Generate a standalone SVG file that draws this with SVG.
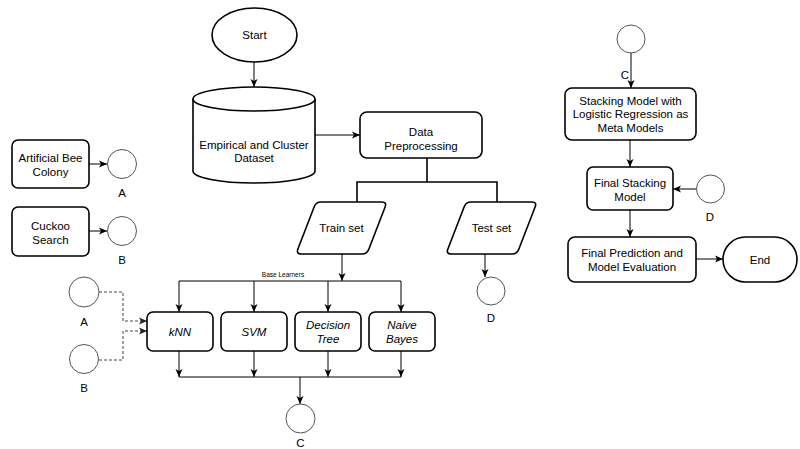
<svg xmlns="http://www.w3.org/2000/svg" width="800" height="449" viewBox="0 0 800 449">
<style>
.box{fill:#fff;stroke:#000;stroke-width:1.6}
.circ{fill:#fff;stroke:#555;stroke-width:1}
.t{font-family:"Liberation Sans",Arial,sans-serif;font-size:11.5px;fill:#000;text-anchor:middle;dominant-baseline:central}
.i{font-style:italic}
.c{fill:none;stroke:#000;stroke-width:1}
.thick{fill:none;stroke:#000;stroke-width:1.6}
.dash{fill:none;stroke:#444;stroke-width:1;stroke-dasharray:3 2}
</style>
<defs>
<marker id="ar" markerUnits="userSpaceOnUse" markerWidth="9" markerHeight="8" refX="8" refY="4" orient="auto">
<path d="M0,0.5 L8,4 L0,7.5 L2,4 Z" fill="#000"/>
</marker>
<marker id="arg" markerUnits="userSpaceOnUse" markerWidth="9" markerHeight="8" refX="8" refY="4" orient="auto">
<path d="M0,0.5 L8,4 L0,7.5 L2,4 Z" fill="#222"/>
</marker>
</defs>
<g id="connectors">
<path class="c" d="M254,62 V87" marker-end="url(#ar)"/>
<path class="c" d="M315,135 H360" marker-end="url(#ar)"/>
<path class="thick" d="M427,158 V182"/>
<path class="thick" d="M357,202 V182 H497 V202"/>
<path class="c" d="M342,254 V281" marker-end="url(#ar)"/>
<path class="c" d="M179,281 H401"/>
<path class="c" d="M179,281 V312" marker-end="url(#ar)"/>
<path class="c" d="M254,281 V312" marker-end="url(#ar)"/>
<path class="c" d="M328,281 V312" marker-end="url(#ar)"/>
<path class="c" d="M401,281 V312" marker-end="url(#ar)"/>
<path class="c" d="M179,351 V377" marker-end="url(#ar)"/>
<path class="c" d="M254,351 V377" marker-end="url(#ar)"/>
<path class="c" d="M328,351 V377" marker-end="url(#ar)"/>
<path class="c" d="M401,351 V377" marker-end="url(#ar)"/>
<path class="c" d="M179,377 H401"/>
<path class="c" d="M300,377 V404" marker-end="url(#ar)"/>
<path class="dash" d="M99,292 H123 V321 H147" marker-end="url(#arg)"/>
<path class="dash" d="M99,360 H123 V331 H147" marker-end="url(#arg)"/>
<path class="c" d="M89,164 H107" marker-end="url(#ar)"/>
<path class="c" d="M89,231 H107" marker-end="url(#ar)"/>
<path class="c" d="M485,254 V277" marker-end="url(#ar)"/>
<path class="c" d="M631,53 V88" marker-end="url(#ar)"/>
<path class="c" d="M630,140 V167" marker-end="url(#ar)"/>
<path class="c" d="M696,189 H673" marker-end="url(#ar)"/>
<path class="c" d="M630,210 V237" marker-end="url(#ar)"/>
<path class="c" d="M696,259 H723" marker-end="url(#ar)"/>
<text class="t" x="283" y="274" style="font-size:6.5px">Base Learners</text>
</g>
<g id="start">
<ellipse class="box" cx="254.5" cy="35" rx="42.5" ry="27"/>
<text class="t" x="254.5" y="35">Start</text>
</g>
<g id="dataset">
<path class="box" d="M193,99 A61,12 0 0,1 315,99 V171 A61,12 0 0,1 193,171 Z"/>
<path class="box" d="M193,99 A61,12 0 0,0 315,99" fill="none"/>
<text class="t" x="254" y="145">Empirical and Cluster</text>
<text class="t" x="254" y="158">Dataset</text>
</g>
<g id="preprocessing">
<rect class="box" x="360" y="112" width="122" height="46" rx="7"/>
<text class="t" x="421" y="132">Data</text>
<text class="t" x="421" y="146">Preprocessing</text>
</g>
<g id="trainset">
<path class="box" d="M321,202 H382 Q387,202 385.2,206.7 L368.8,249.3 Q367,254 362,254 H301 Q296,254 297.8,249.3 L314.2,206.7 Q316,202 321,202 Z"/>
<text class="t" x="341.5" y="228">Train set</text>
</g>
<g id="testset">
<path class="box" d="M471,202 H532 Q537,202 535.2,206.7 L518.8,249.3 Q517,254 512,254 H451 Q446,254 447.8,249.3 L464.2,206.7 Q466,202 471,202 Z"/>
<text class="t" x="491.5" y="228">Test set</text>
</g>
<g id="abc">
<rect class="box" x="12" y="140" width="77" height="48" rx="6"/>
<text class="t" x="50.5" y="158">Artificial Bee</text>
<text class="t" x="50.5" y="172">Colony</text>
</g>
<g id="circleA1">
<circle class="circ" cx="122" cy="164" r="14.5"/>
<text class="t" x="122" y="193">A</text>
</g>
<g id="cuckoo">
<rect class="box" x="12" y="207" width="77" height="49" rx="6"/>
<text class="t" x="50.5" y="226">Cuckoo</text>
<text class="t" x="50.5" y="240">Search</text>
</g>
<g id="circleB1">
<circle class="circ" cx="122" cy="231" r="14.5"/>
<text class="t" x="122" y="260">B</text>
</g>
<g id="circleD1">
<circle class="circ" cx="491" cy="291" r="14"/>
<text class="t" x="491" y="318">D</text>
</g>
<g id="circleA2">
<circle class="circ" cx="84" cy="292" r="15"/>
<text class="t" x="84" y="322">A</text>
</g>
<g id="circleB2">
<circle class="circ" cx="84" cy="359" r="14.5"/>
<text class="t" x="84" y="388">B</text>
</g>
<g id="knn">
<rect class="box" x="147" y="312" width="66" height="39" rx="6"/>
<text class="t i" x="180" y="331.5">kNN</text>
</g>
<g id="svm">
<rect class="box" x="221" y="312" width="66" height="39" rx="6"/>
<text class="t i" x="254" y="331.5">SVM</text>
</g>
<g id="dtree">
<rect class="box" x="295" y="312" width="66" height="39" rx="6"/>
<text class="t i" x="328" y="325">Decision</text>
<text class="t i" x="328" y="339">Tree</text>
</g>
<g id="nbayes">
<rect class="box" x="369" y="312" width="66" height="39" rx="6"/>
<text class="t i" x="402" y="325">Naive</text>
<text class="t i" x="402" y="339">Bayes</text>
</g>
<g id="circleC1">
<circle class="circ" cx="300.5" cy="418.5" r="14.5"/>
<text class="t" x="300.5" y="443">C</text>
</g>
<g id="circleC2">
<circle class="circ" cx="631" cy="39" r="14"/>
<text class="t" x="625" y="75">C</text>
</g>
<g id="stacking">
<rect class="box" x="565" y="88" width="131" height="52" rx="7"/>
<text class="t" x="630.5" y="101">Stacking Model with</text>
<text class="t" x="630.5" y="114">Logistic Regression as</text>
<text class="t" x="630.5" y="128">Meta Models</text>
</g>
<g id="finalstacking">
<rect class="box" x="587" y="167" width="86" height="43" rx="6"/>
<text class="t" x="630" y="183">Final Stacking</text>
<text class="t" x="630" y="197">Model</text>
</g>
<g id="circleD2">
<circle class="circ" cx="710.5" cy="189" r="14"/>
<text class="t" x="710" y="217">D</text>
</g>
<g id="finalprediction">
<rect class="box" x="568" y="237" width="128" height="45" rx="7"/>
<text class="t" x="632" y="253">Final Prediction and</text>
<text class="t" x="632" y="267">Model Evaluation</text>
</g>
<g id="end">
<rect class="box" x="723" y="237" width="74" height="45" rx="22.5"/>
<text class="t" x="760" y="259.5">End</text>
</g>
</svg>
